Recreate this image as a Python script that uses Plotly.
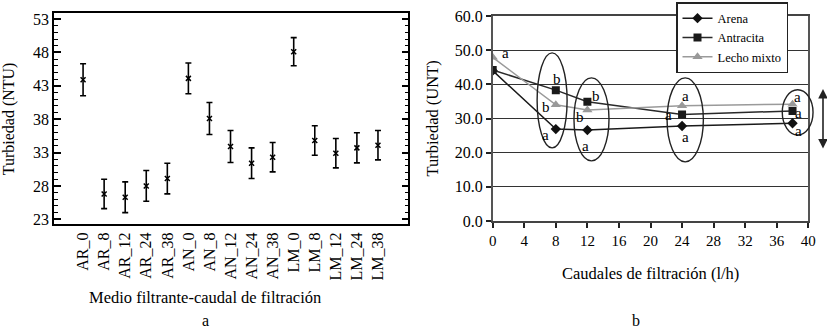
import plotly.graph_objects as go

# ---- Panel a data ----
categories = ["AR_0", "AR_8", "AR_12", "AR_24", "AR_38",
              "AN_0", "AN_8", "AN_12", "AN_24", "AN_38",
              "LM_0", "LM_8", "LM_12", "LM_24", "LM_38"]
turb_means = [43.9, 26.8, 26.3, 28.0, 29.1,
              44.1, 38.1, 33.9, 31.4, 32.3,
              48.1, 34.8, 32.9, 33.7, 34.1]
turb_errors = [2.4, 2.2, 2.3, 2.3, 2.3,
               2.3, 2.4, 2.4, 2.3, 2.2,
               2.1, 2.2, 2.2, 2.25, 2.2]
y_ticks_a = [23, 28, 33, 38, 43, 48, 53]

# ---- Panel b data ----
caudales = [0, 8, 12, 24, 38]
arena = [44.0, 26.9, 26.6, 27.8, 28.6]
antracita = [44.2, 38.3, 34.9, 31.2, 32.2]
lecho_mixto = [47.9, 34.0, 32.5, 33.7, 34.2]
y_ticks_b = [0, 10, 20, 30, 40, 50, 60]
x_ticks_b = [0, 4, 8, 12, 16, 20, 24, 28, 32, 36, 40]

FONT = "Liberation Serif, DejaVu Serif, serif"
W, H = 827, 328
BLACK = "black"

fig = go.Figure()

# Panel a
fig.add_trace(go.Scatter(
    x=list(range(len(categories))), y=turb_means,
    mode="markers",
    marker=dict(symbol="x-thin-open", size=5, color=BLACK,
                line=dict(width=1.5, color=BLACK)),
    error_y=dict(type="data", array=turb_errors, visible=True,
                 color=BLACK, thickness=1.6, width=3),
    xaxis="x", yaxis="y", showlegend=False,
))

# Panel b
fig.add_trace(go.Scatter(
    x=caudales, y=arena, name="Arena", mode="lines+markers",
    line=dict(color="#1a1a1a", width=1.5),
    marker=dict(symbol="diamond", size=8, color="#111111"),
    xaxis="x2", yaxis="y2",
))
fig.add_trace(go.Scatter(
    x=caudales, y=antracita, name="Antracita", mode="lines+markers",
    line=dict(color="#2a2a2a", width=1.5),
    marker=dict(symbol="square", size=8, color="#1a1a1a"),
    xaxis="x2", yaxis="y2",
))
fig.add_trace(go.Scatter(
    x=caudales, y=lecho_mixto, name="Lecho mixto", mode="lines+markers",
    line=dict(color="#9a9a9a", width=1.5),
    marker=dict(symbol="triangle-up", size=9, color="#999999"),
    xaxis="x2", yaxis="y2",
))

# Domains from pixel positions
x1d = [54 / W, 408.3 / W]
y1d = [(H - 224.3) / H, (H - 13.3) / H]
x2d = [492.7 / W, 808.3 / W]
y2d = [(H - 221) / H, (H - 16) / H]

fig.update_layout(
    width=W, height=H,
    margin=dict(l=0, r=0, t=0, b=0, autoexpand=False),
    paper_bgcolor="white", plot_bgcolor="white",
    font=dict(family=FONT, color=BLACK, size=15),
    xaxis=dict(
        domain=x1d, range=[-1.38, 15.44], automargin=False,
        tickmode="array", tickvals=list(range(len(categories))),
        ticktext=categories, tickangle=-90,
        tickfont=dict(size=16, family=FONT, color=BLACK),
        showgrid=False, zeroline=False,
        showline=True, linecolor=BLACK, linewidth=1.5, mirror=True,
        ticks="",
    ),
    yaxis=dict(
        domain=y1d, range=[22.25, 53.85], automargin=False,
        tickmode="array", tickvals=y_ticks_a,
        tickfont=dict(size=16, family=FONT, color=BLACK),
        showgrid=False, zeroline=False,
        showline=True, linecolor=BLACK, linewidth=1.5, mirror="allticks",
        ticks="inside", ticklen=7, tickwidth=1.5, tickcolor=BLACK,
        minor=dict(ticks="inside", dtick=1, ticklen=4, tickwidth=1.2,
                   tickcolor=BLACK, showgrid=False),
    ),
    xaxis2=dict(
        domain=x2d, range=[0, 40], anchor="y2", automargin=False,
        tickmode="array", tickvals=x_ticks_b,
        tickfont=dict(size=15, family=FONT, color=BLACK),
        showgrid=False, zeroline=False,
        showline=True, linecolor="#444444", linewidth=1.5, mirror=True,
        ticks="outside", ticklen=5, tickwidth=1.5, tickcolor="#222222",
    ),
    yaxis2=dict(
        domain=y2d, range=[0, 60], anchor="x2", automargin=False,
        tickmode="array", tickvals=y_ticks_b, tickformat=".1f",
        tickfont=dict(size=16, family=FONT, color=BLACK),
        showgrid=True, gridcolor="#333333", gridwidth=1.3,
        zeroline=False,
        showline=True, linecolor="#555555", linewidth=1.5, mirror=True,
        ticks="outside", ticklen=5, tickwidth=1.5, tickcolor="#222222",
    ),
    legend=dict(
        x=676 / W, y=(H - 2) / H, xanchor="left", yanchor="top",
        bgcolor="white", bordercolor="#222222", borderwidth=1.5,
        font=dict(size=12.5, family=FONT, color=BLACK), tracegroupgap=0,
        itemwidth=30,
    ),
)


def dom(xv, yv):
    return xv / 40.0, yv / 60.0


# Ellipses (x2/y2 domain refs to avoid clipping)
ellipses = [
    (5.63, 9.43, 21.4, 49.2),
    (10.3, 14.74, 17.6, 41.9),
    (22.1, 26.7, 17.3, 41.9),
    (36.7, 40.6, 25.2, 38.4),
]
for x0, x1, y0, y1 in ellipses:
    a0, b0 = dom(x0, y0)
    a1, b1 = dom(x1, y1)
    fig.add_shape(type="circle", xref="x2 domain", yref="y2 domain",
                  x0=a0, x1=a1, y0=b0, y1=b1,
                  line=dict(color="#222222", width=1.4))

# Significance letters
letters = [
    (1.56, 49.2, "a"), (-0.89, 47.1, "a"), (-1.06, 43.9, "a"),
    (8.11, 41.6, "b"), (6.72, 33.4, "b"), (6.72, 25.2, "a"),
    (13.05, 36.6, "b"), (11.1, 30.5, "b"), (11.8, 22.0, "a"),
    (24.4, 36.6, "a"), (22.3, 31.1, "a"), (24.4, 24.6, "a"),
    (38.65, 36.2, "a"), (38.8, 31.7, "a"), (38.8, 26.4, "a"),
]
for lx, ly, t in letters:
    fig.add_annotation(x=lx, y=ly, xref="x2", yref="y2", text=t,
                       showarrow=False,
                       font=dict(size=15, family=FONT, color=BLACK))

# Axis titles as annotations (pixel positions from the reference)
titles = [
    (8.5, 118.8, "Turbiedad (NTU)", -90, 16),
    (205, 297, "Medio filtrante-caudal de filtración", 0, 16.5),
    (432, 118.5, "Turbiedad (UNT)", -90, 16.5),
    (650, 273, "Caudales de filtración (l/h)", 0, 16.5),
    (205, 320, "a", 0, 16),
    (636, 320, "b", 0, 16),
]
for px, py, t, ang, fs in titles:
    fig.add_annotation(x=px / W, y=(H - py) / H, xref="paper", yref="paper",
                       text=t, showarrow=False, textangle=ang,
                       xanchor="center", yanchor="middle",
                       font=dict(size=fs, family=FONT, color=BLACK))

# Double arrow on the right
fig.add_annotation(x=823 / W, y=(H - 89) / H, xref="paper", yref="paper",
                   ax=0, ay=61, axref="pixel", ayref="pixel",
                   text="", showarrow=True, arrowside="end+start",
                   arrowhead=2, arrowsize=1.2, arrowwidth=1.6,
                   arrowcolor="#222222")

fig.write_html(
    "out.html",
    config={"displayModeBar": False},
    post_script="document.documentElement.style.margin='0';"
                "document.body.style.margin='0';"
                "document.body.style.padding='0';"
                "document.body.style.overflow='hidden';",
)
